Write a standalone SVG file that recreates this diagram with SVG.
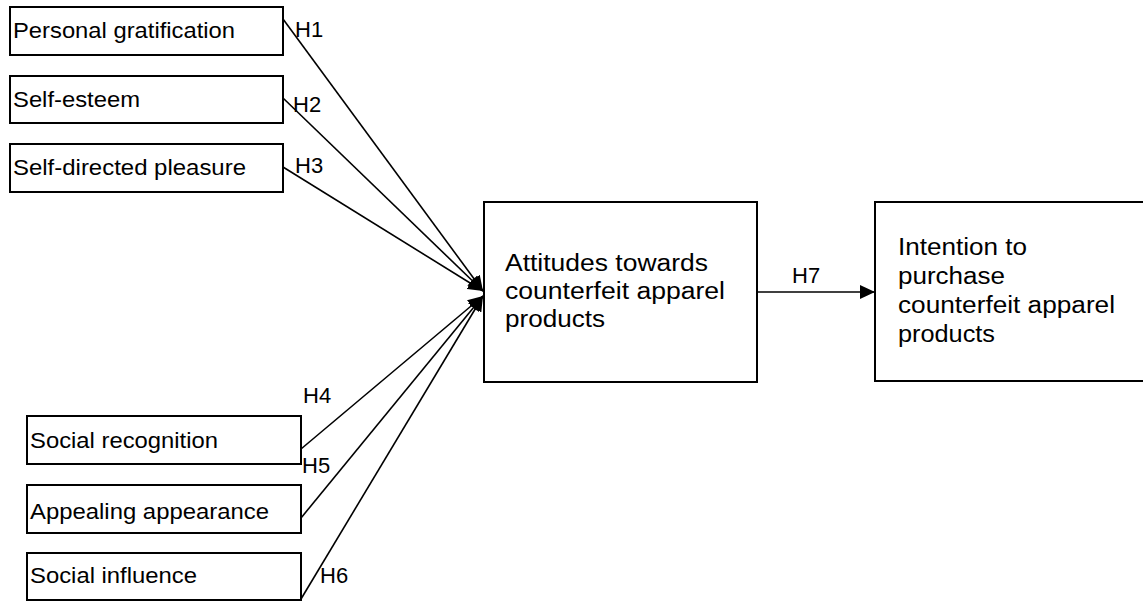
<svg xmlns="http://www.w3.org/2000/svg" width="1143" height="603" viewBox="0 0 1143 603">
<defs>
<style>
.box{fill:#fff;stroke:#000;stroke-width:2}
.t{font-family:"Liberation Sans",Arial,sans-serif;font-size:22px;fill:#000}
.m{font-family:"Liberation Sans",Arial,sans-serif;font-size:23.5px;fill:#000}
.c{stroke:#000;stroke-width:1.6;fill:none}
</style>
<marker id="ah" markerUnits="userSpaceOnUse" markerWidth="16" markerHeight="14" refX="15" refY="7" orient="auto" viewBox="0 0 16 14">
<path d="M0,0 L15,7 L0,14 z" fill="#000"/>
</marker>
</defs>
<rect width="1143" height="603" fill="#fff"/>
<g id="n1"><rect class="box" x="10" y="7" width="273" height="48"/><text class="t" x="13" y="38" textLength="222" lengthAdjust="spacingAndGlyphs">Personal gratification</text></g>
<g id="n2"><rect class="box" x="10" y="76" width="273" height="47"/><text class="t" x="13" y="107" textLength="127" lengthAdjust="spacingAndGlyphs">Self-esteem</text></g>
<g id="n3"><rect class="box" x="10" y="144" width="273" height="48"/><text class="t" x="13" y="175" textLength="233" lengthAdjust="spacingAndGlyphs">Self-directed pleasure</text></g>
<g id="n4"><rect class="box" x="27" y="416" width="274" height="48"/><text class="t" x="30" y="448" textLength="188" lengthAdjust="spacingAndGlyphs">Social recognition</text></g>
<g id="n5"><rect class="box" x="27" y="485" width="274" height="48"/><text class="t" x="30" y="519" textLength="239" lengthAdjust="spacingAndGlyphs">Appealing appearance</text></g>
<g id="n6"><rect class="box" x="27" y="553" width="274" height="47"/><text class="t" x="30" y="583" textLength="167" lengthAdjust="spacingAndGlyphs">Social influence</text></g>
<g id="n7"><rect class="box" x="484" y="202" width="273" height="180"/>
<text class="m" x="505" y="271" textLength="203" lengthAdjust="spacingAndGlyphs">Attitudes towards</text>
<text class="m" x="505" y="299" textLength="220" lengthAdjust="spacingAndGlyphs">counterfeit apparel</text>
<text class="m" x="505" y="327" textLength="100" lengthAdjust="spacingAndGlyphs">products</text></g>
<g id="n8"><rect class="box" x="875" y="202" width="280" height="179"/>
<text class="m" x="898" y="255" textLength="129" lengthAdjust="spacingAndGlyphs">Intention to</text>
<text class="m" x="898" y="284" textLength="107" lengthAdjust="spacingAndGlyphs">purchase</text>
<text class="m" x="898" y="313" textLength="217" lengthAdjust="spacingAndGlyphs">counterfeit apparel</text>
<text class="m" x="898" y="342" textLength="97" lengthAdjust="spacingAndGlyphs">products</text></g>
<g id="connectors">
<line class="c" x1="283" y1="19" x2="483" y2="291" marker-end="url(#ah)"/>
<line class="c" x1="283" y1="98" x2="483" y2="291" marker-end="url(#ah)"/>
<line class="c" x1="283" y1="167" x2="483" y2="291" marker-end="url(#ah)"/>
<line class="c" x1="301" y1="449" x2="483" y2="296" marker-end="url(#ah)"/>
<line class="c" x1="301" y1="518" x2="483" y2="296" marker-end="url(#ah)"/>
<line class="c" x1="301" y1="599" x2="483" y2="296" marker-end="url(#ah)"/>
<line class="c" x1="757" y1="292" x2="875" y2="292" marker-end="url(#ah)"/>
<text class="t" x="295" y="37">H1</text>
<text class="t" x="293" y="112">H2</text>
<text class="t" x="295" y="173">H3</text>
<text class="t" x="303" y="403">H4</text>
<text class="t" x="302" y="473">H5</text>
<text class="t" x="320" y="583">H6</text>
<text class="t" x="792" y="283">H7</text>
</g>
</svg>
